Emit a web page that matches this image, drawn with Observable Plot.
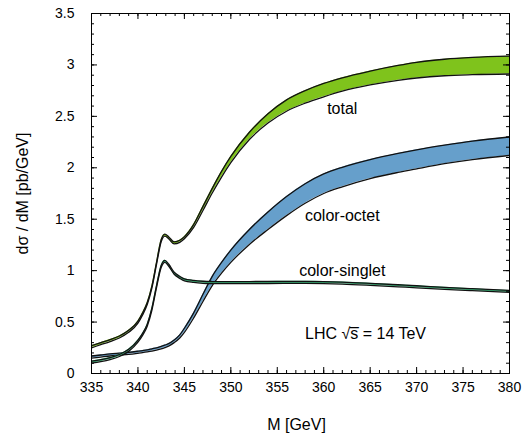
<!DOCTYPE html>
<html><head><meta charset="utf-8">
<script src="https://cdn.jsdelivr.net/npm/d3@7"></script>
<script src="https://cdn.jsdelivr.net/npm/@observablehq/plot@0.6"></script>
<style>body{margin:0;background:#fff} svg{display:block}</style>
</head><body><div id="chart"></div>
<script>
// invariant mass grid (GeV)
const M = [335,336,337,338,339,340,340.5,341,341.5,342,342.5,342.9,343.3,343.9,344.5,345,346,347,348,349,350,352,354,356,358,360,362,365,368,370,373,376,380];
// total band
const totalLo = [0.25,0.28,0.31,0.345,0.40,0.49,0.57,0.67,0.83,1.06,1.28,1.335,1.31,1.26,1.275,1.31,1.42,1.585,1.755,1.91,2.05,2.275,2.435,2.55,2.628,2.69,2.745,2.805,2.85,2.873,2.895,2.905,2.912];
const totalHi = [0.27,0.30,0.33,0.365,0.42,0.51,0.59,0.69,0.85,1.08,1.30,1.355,1.33,1.28,1.295,1.33,1.45,1.625,1.80,1.965,2.11,2.345,2.525,2.66,2.75,2.82,2.875,2.94,2.995,3.025,3.055,3.073,3.085];
// color-octet band
const octetLo = [0.15,0.16,0.17,0.178,0.186,0.197,0.203,0.21,0.218,0.228,0.24,0.252,0.266,0.30,0.345,0.40,0.54,0.70,0.855,0.975,1.08,1.255,1.40,1.535,1.655,1.75,1.815,1.895,1.955,1.99,2.04,2.08,2.12];
const octetHi = [0.17,0.18,0.19,0.198,0.206,0.217,0.223,0.23,0.24,0.25,0.263,0.276,0.29,0.325,0.375,0.44,0.59,0.77,0.945,1.08,1.20,1.40,1.57,1.72,1.845,1.94,2.005,2.08,2.14,2.175,2.22,2.26,2.30];
// color-singlet band
const singletLo = [0.10,0.115,0.135,0.165,0.215,0.305,0.37,0.46,0.615,0.835,1.03,1.08,1.045,0.965,0.925,0.90,0.885,0.877,0.874,0.873,0.873,0.874,0.875,0.876,0.876,0.874,0.869,0.857,0.843,0.833,0.818,0.805,0.788];
const singletHi = [0.12,0.135,0.155,0.185,0.235,0.325,0.39,0.48,0.635,0.855,1.05,1.10,1.065,0.985,0.945,0.92,0.905,0.897,0.894,0.893,0.893,0.894,0.895,0.896,0.896,0.894,0.889,0.877,0.863,0.853,0.838,0.825,0.808];

const xTicks = [335,340,345,350,355,360,365,370,375,380];
const yTicks = [0,0.5,1,1.5,2,2.5,3,3.5];
const xMinorTicks = d3.range(335,381,1);
const yMinorTicks = d3.range(0,3.51,0.1);

const labels = [
  {M:362, v:2.575, text:"total"},
  {M:362, v:1.537, text:"color-octet"},
  {M:362, v:1.0, text:"color-singlet"},
  {M:364.5, v:0.39, text:"LHC \u221As\u0305 = 14 TeV"}
];

const W=528, H=438, mL=91, mR=19, mT=13, mB=65;
const pw = W-mL-mR, ph = H-mT-mB;
const rows = M.map((m,i)=>({M:m, tlo:totalLo[i], thi:totalHi[i], olo:octetLo[i], ohi:octetHi[i], slo:singletLo[i], shi:singletHi[i]}));

const curve = "monotone-x";
function band(lo, hi, fill){
  return [
    Plot.areaY(rows,{x:"M", y1:lo, y2:hi, fill, curve, clip:true}),
    Plot.line(rows,{x:"M", y:lo, stroke:"#111", strokeWidth:1.3, curve, clip:true}),
    Plot.line(rows,{x:"M", y:hi, stroke:"#111", strokeWidth:1.3, curve, clip:true})
  ];
}

const chart = Plot.plot({
  width:W, height:H, marginLeft:mL, marginRight:mR, marginTop:mT, marginBottom:mB,
  style:{fontFamily:"'Liberation Sans', Arial, sans-serif", fontSize:"14px", color:"#000", background:"#fff"},
  x:{domain:[335,380], ticks:xTicks, tickSize:0, tickPadding:9, tickFormat:d=>String(d), label:null},
  y:{domain:[0,3.5], ticks:yTicks, tickSize:0, tickPadding:17, tickFormat:d=>String(d), label:null},
  marks:[
    ...band("olo","ohi","#669fcb"),
    ...band("tlo","thi","#7fc31c"),
    ...band("slo","shi","#3db57a"),
    Plot.frame({stroke:"#000", strokeWidth:1}),
    Plot.tickX(xTicks,{x:d=>d, insetTop:ph-6, stroke:"#000"}),
    Plot.tickX(xMinorTicks,{x:d=>d, insetTop:ph-3, stroke:"#000"}),
    Plot.tickX(xTicks,{x:d=>d, insetBottom:ph-6, stroke:"#000"}),
    Plot.tickX(xMinorTicks,{x:d=>d, insetBottom:ph-3, stroke:"#000"}),
    Plot.tickY(yTicks,{y:d=>d, insetRight:pw-6, stroke:"#000"}),
    Plot.tickY(yMinorTicks,{y:d=>d, insetRight:pw-3, stroke:"#000"}),
    Plot.tickY(yTicks,{y:d=>d, insetLeft:pw-6, stroke:"#000"}),
    Plot.tickY(yMinorTicks,{y:d=>d, insetLeft:pw-3, stroke:"#000"}),
    Plot.text(labels,{x:"M", y:"v", text:"text", fontSize:16, textAnchor:"middle", lineAnchor:"middle", fill:"#000"}),
    Plot.text(["d\u03C3 / dM [pb/GeV]"],{frameAnchor:"left", dx:-69, rotate:-90, textAnchor:"middle", lineAnchor:"middle", fontSize:16, fill:"#000"}),
    Plot.text(["M [GeV]"],{frameAnchor:"bottom", dx:-4, dy:51, textAnchor:"middle", lineAnchor:"middle", fontSize:16, fill:"#000"})
  ]
});
document.getElementById("chart").appendChild(chart);
</script>
</body></html>
